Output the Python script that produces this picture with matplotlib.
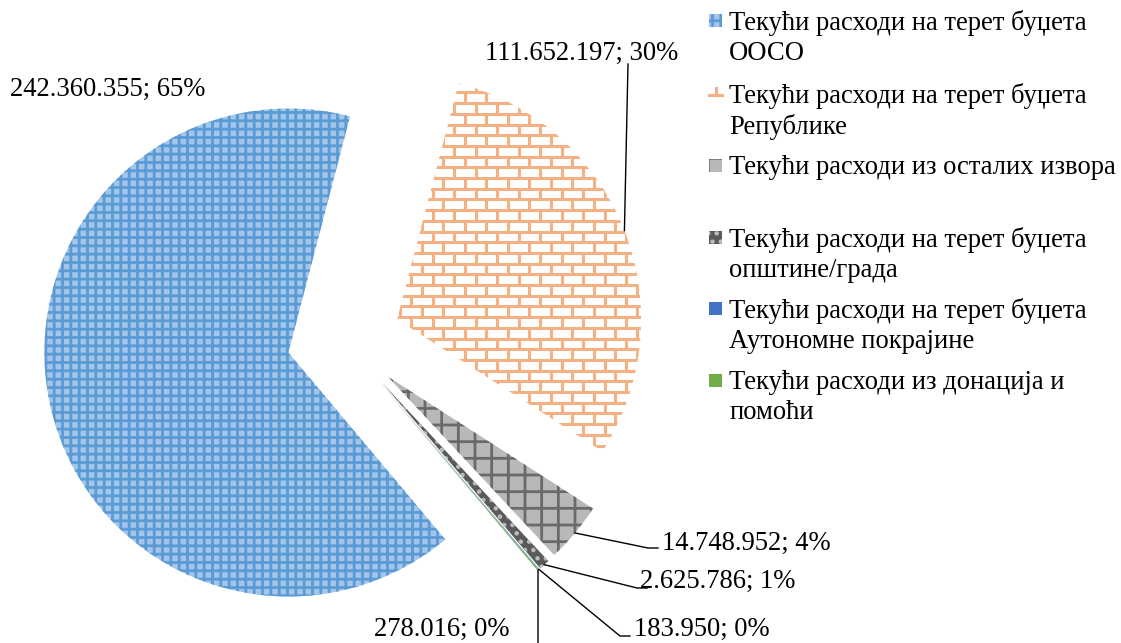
import numpy as np
import matplotlib.pyplot as plt
from matplotlib.patches import Rectangle
from matplotlib.collections import LineCollection

plt.rcParams['font.family'] = ['Liberation Serif', 'DejaVu Serif']
plt.rcParams['hatch.linewidth'] = 2.0

# data
categories = ['Текући расходи на терет буџета\nООСО',
              'Текући расходи на терет буџета\nРепублике',
              'Текући расходи из осталих извора\n',
              'Текући расходи на терет буџета\nопштине/града',
              'Текући расходи на терет буџета\nАутономне покрајине',
              'Текући расходи из донација и\nпомоћи']
values = [242360355, 111652197, 14748952, 2625786, 183950, 278016]

face = ['#a3c5ea', 'white', '#b8b8b8', '#5a5a5a', '#4472C4', '#70AD47']
hatch_col = ['#5B9BD5', 'white', '#6a6a6a', '#bdbdbd', '#4472C4', '#70AD47']
hatches = ['++', None, '+', '..', None, None]
brick_col = '#F4B183'

W, H = 1121, 643
R = 244
fig = plt.figure(figsize=(W / 100, H / 100), dpi=100)
ax = fig.add_axes([0, 0, 1, 1])

# explode is in data units (pixels here)
wedges, _ = ax.pie(values, center=(344, H - 340), radius=R, startangle=-50,
                   counterclock=False, explode=[57] * len(values),
                   wedgeprops=dict(linewidth=0))
for w, fc, hc, h in zip(wedges, face, hatch_col, hatches):
    w.set_facecolor(fc)
    w.set_edgecolor(hc)
    w.set_linewidth(0)
    if h:
        w.set_hatch(h)
ax.set_xlim(0, W)
ax.set_ylim(0, H)
ax.set_aspect('auto')
ax.axis('off')

# brick texture for the Republic slice
def bricks(wedge, color, row_h=10.7, brick_w=21.5, lw=2.2):
    cx, cy = wedge.center
    r = wedge.r
    segs = []
    ys = np.arange(cy - r, cy + r, row_h)
    for i, y in enumerate(ys):
        segs.append([(cx - r, y), (cx + r, y)])
        off = (i % 2) * brick_w / 2
        for x in np.arange(cx - r + off, cx + r, brick_w):
            segs.append([(x, y), (x, y + row_h)])
    lc = LineCollection(segs, colors=color, linewidths=lw, zorder=3)
    ax.add_collection(lc)
    lc.set_clip_path(wedge)

bricks(wedges[1], brick_col)

# data labels
total = sum(values)
def lab(v):
    return f"{v:,}".replace(',', '.') + f"; {round(100 * v / total):.0f}%"

label_pos = [(10, 89, 'left'), (582, 53, 'center'), (662, 543, 'left'),
             (640, 581, 'left'), (634, 629, 'left'), (510, 629, 'right')]
leader_pts = [None, [(628, 64)], [(648, 548), (658, 548)],
              [(637, 588), (647, 588)], [(620, 636), (630, 636)], [(538, 643)]]

for w, v, (tx, ty, ha), pts in zip(wedges, values, label_pos, leader_pts):
    ax.text(tx, H - ty, lab(v), ha=ha, va='center', fontsize=19.2)
    if pts is None:
        continue
    t = np.deg2rad((w.theta1 + w.theta2) / 2)
    cx, cy = w.center
    a0 = (cx + w.r * np.cos(t), cy + w.r * np.sin(t))
    xs = [a0[0]] + [p[0] for p in pts]
    ys = [a0[1]] + [H - p[1] for p in pts]
    ax.plot(xs, ys, color='black', lw=1.0, zorder=4)

# legend
leg_y = [20, 93, 165, 237, 308, 380]
for i, (txt, y) in enumerate(zip(categories, leg_y)):
    if i == 1:
        ax.plot([709, 722], [H - y - 2, H - y - 2], color=brick_col, lw=2.2)
        ax.plot([715.5, 715.5], [H - y - 2, H - y + 5], color=brick_col, lw=2.2)
    else:
        ax.add_patch(Rectangle((709, H - y - 6.5), 13, 13, facecolor=face[i],
                               edgecolor=hatch_col[i], hatch=hatches[i], lw=0))
    ax.text(729, H - y + 10, txt, ha='left', va='top', fontsize=19.2,
            linespacing=1.25)

fig.savefig('out.png', dpi=100)
